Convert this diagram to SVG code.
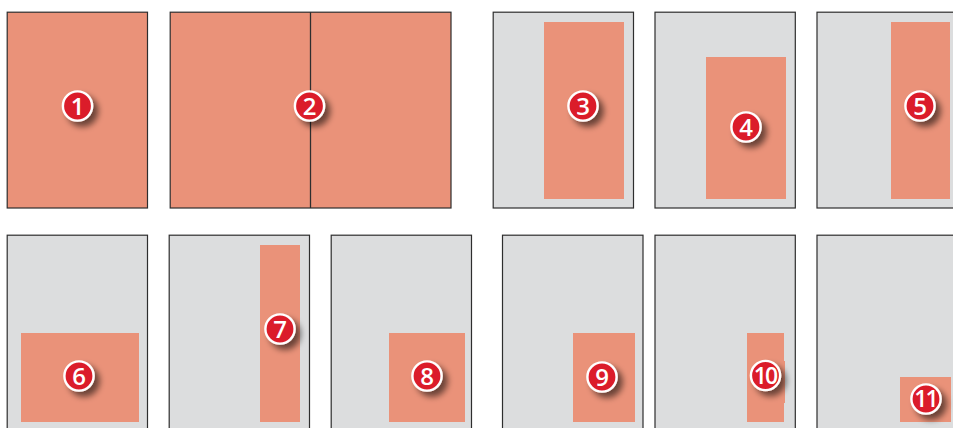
<svg xmlns="http://www.w3.org/2000/svg" width="953" height="428" viewBox="0 0 953 428">
<style>
.page{fill:#dcddde;stroke:#2e2e2e;stroke-width:1.2}
.full{fill:#ea9279;stroke:#2e2e2e;stroke-width:1.2}
.art{fill:#ea9279}
.fold{stroke:#2e2e2e;stroke-width:1.3;fill:none}
.badge{fill:#db1f2c;stroke:#fff;stroke-width:2.4;filter:url(#sh)}
.num{font-family:"Open Sans","Liberation Sans",sans-serif;font-weight:600;font-size:24px;fill:#fff;text-anchor:middle}
.num2{font-size:23px;letter-spacing:-2px}
</style>
<defs>
<filter id="sh" x="-60%" y="-60%" width="240%" height="240%">
<feGaussianBlur in="SourceAlpha" stdDeviation="3.2"/>
<feOffset dx="5" dy="5"/>
<feComponentTransfer><feFuncA type="linear" slope="0.55"/></feComponentTransfer>
<feMerge><feMergeNode/><feMergeNode in="SourceGraphic"/></feMerge>
</filter>
</defs>
<rect width="953" height="428" fill="#fff"/>
<g id="n1"><rect class="full" x="7.2" y="12.2" width="140.300" height="195.800"/><circle class="badge" cx="77.5" cy="106" r="14.600"/><text class="num" x="77.5" y="114.500">1</text></g>
<g id="n2"><rect class="full" x="170.200" y="12.2" width="280.800" height="195.800"/><line class="fold" x1="310.500" y1="12.2" x2="310.500" y2="208"/><circle class="badge" cx="309.5" cy="106" r="14.600"/><text class="num" x="309.5" y="114.500">2</text></g>
<g id="n3"><rect class="page" x="493.200" y="12.2" width="140.300" height="195.800"/><rect class="art" x="544" y="22" width="80" height="177"/><circle class="badge" cx="583" cy="106" r="14.600"/><text class="num" x="583" y="114.500">3</text></g>
<g id="n4"><rect class="page" x="655" y="12.2" width="140.300" height="195.800"/><rect class="art" x="706" y="57" width="80" height="142"/><circle class="badge" cx="746" cy="127" r="14.600"/><text class="num" x="746" y="135.500">4</text></g>
<g id="n5"><rect class="page" x="817" y="12.2" width="140.300" height="195.800"/><rect class="art" x="891" y="22" width="59" height="177"/><circle class="badge" cx="920" cy="106" r="14.600"/><text class="num" x="920" y="114.500">5</text></g>
<g id="n6"><rect class="page" x="7.2" y="235.200" width="140.300" height="200"/><rect class="art" x="21" y="333" width="118" height="89"/><circle class="badge" cx="79" cy="376" r="14.600"/><text class="num" x="79" y="384.500">6</text></g>
<g id="n7"><rect class="page" x="169.200" y="235.200" width="140.300" height="200"/><rect class="art" x="260" y="245" width="40" height="177"/><circle class="badge" cx="280" cy="329" r="14.600"/><text class="num" x="280" y="337.500">7</text></g>
<g id="n8"><rect class="page" x="331.200" y="235.200" width="140.300" height="200"/><rect class="art" x="389" y="333" width="76" height="89"/><circle class="badge" cx="427" cy="376" r="14.600"/><text class="num" x="427" y="384.500">8</text></g>
<g id="n9"><rect class="page" x="502.500" y="235.200" width="140.500" height="200"/><rect class="art" x="573" y="333" width="62" height="89"/><circle class="badge" cx="602" cy="377" r="14.600"/><text class="num" x="602" y="385.500">9</text></g>
<g id="n10"><rect class="page" x="655" y="235.200" width="140.300" height="200"/><rect class="art" x="747" y="333" width="37" height="89"/><rect class="art" x="784" y="361" width="1" height="42"/><circle class="badge" cx="765.500" cy="375.500" r="14.600"/><text class="num num2" x="765" y="383.500">10</text></g>
<g id="n11"><rect class="page" x="817" y="235.200" width="140.300" height="200"/><rect class="art" x="900" y="377" width="51" height="45"/><circle class="badge" cx="926" cy="399" r="14.600"/><text class="num num2" x="925.500" y="407">11</text></g>
</svg>
